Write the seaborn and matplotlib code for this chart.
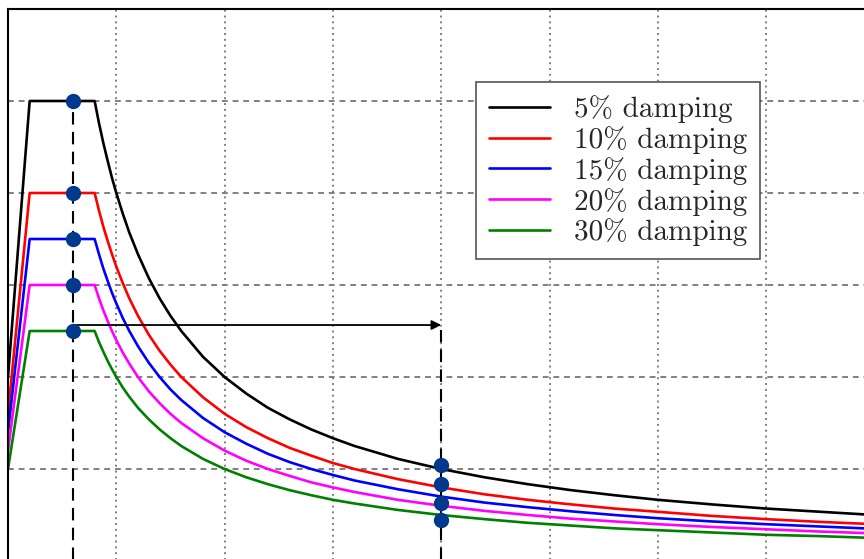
import numpy as np
import pandas as pd
import matplotlib
matplotlib.use("Agg")
import matplotlib.pyplot as plt
import seaborn as sns

# Periods (s) and spectral values
periods = [0.0, 0.1, 0.4, 0.42, 0.44, 0.46, 0.48, 0.5, 0.53, 0.56, 0.6, 0.65, 0.7,
           0.75, 0.8, 0.9, 1.0, 1.1, 1.2, 1.3, 1.4, 1.5, 1.6, 1.8, 2.0, 2.2, 2.4,
           2.6, 2.8, 3.0, 3.25, 3.5, 3.75, 4.0]
sa_5 = [0.400, 1.000, 1.000, 0.952, 0.909, 0.870, 0.833, 0.800, 0.755, 0.714, 0.667,
        0.615, 0.571, 0.533, 0.500, 0.444, 0.400, 0.364, 0.333, 0.308, 0.286, 0.267,
        0.250, 0.222, 0.200, 0.182, 0.167, 0.154, 0.143, 0.133, 0.123, 0.114, 0.107, 0.100]
sa_10 = [0.320, 0.800, 0.800, 0.762, 0.727, 0.696, 0.667, 0.640, 0.604, 0.571, 0.533,
         0.492, 0.457, 0.427, 0.400, 0.356, 0.320, 0.291, 0.267, 0.246, 0.229, 0.213,
         0.200, 0.178, 0.160, 0.145, 0.133, 0.123, 0.114, 0.107, 0.098, 0.091, 0.085, 0.080]
sa_15 = [0.280, 0.700, 0.700, 0.667, 0.636, 0.609, 0.583, 0.560, 0.528, 0.500, 0.467,
         0.431, 0.400, 0.373, 0.350, 0.311, 0.280, 0.255, 0.233, 0.215, 0.200, 0.187,
         0.175, 0.156, 0.140, 0.127, 0.117, 0.108, 0.100, 0.093, 0.086, 0.080, 0.075, 0.070]
sa_20 = [0.240, 0.600, 0.600, 0.571, 0.545, 0.522, 0.500, 0.480, 0.453, 0.429, 0.400,
         0.369, 0.343, 0.320, 0.300, 0.267, 0.240, 0.218, 0.200, 0.185, 0.171, 0.160,
         0.150, 0.133, 0.120, 0.109, 0.100, 0.092, 0.086, 0.080, 0.074, 0.069, 0.064, 0.060]
sa_30 = [0.200, 0.500, 0.500, 0.476, 0.455, 0.435, 0.417, 0.400, 0.377, 0.357, 0.333,
         0.308, 0.286, 0.267, 0.250, 0.222, 0.200, 0.182, 0.167, 0.154, 0.143, 0.133,
         0.125, 0.111, 0.100, 0.091, 0.083, 0.077, 0.071, 0.067, 0.062, 0.057, 0.054, 0.050]

labels = ["5% damping", "10% damping", "15% damping", "20% damping", "30% damping"]
colors = ["black", "red", "blue", "magenta", "green"]

# Marked points
t_short = 0.3
dots_short = [1.0, 0.8, 0.7, 0.6, 0.5]
t_long = 2.0
dots_long = [0.209, 0.167, 0.126, 0.089]
arrow_level = 0.513

# Long table for seaborn
series = [sa_5, sa_10, sa_15, sa_20, sa_30]
df = pd.concat(
    [pd.DataFrame({"T": periods, "Sa": s, "damping": lab}) for s, lab in zip(series, labels)],
    ignore_index=True,
)

sns.set_theme(style="whitegrid")
plt.rcParams["axes.formatter.use_mathtext"] = True

fig = plt.figure(figsize=(8.64, 5.59), dpi=100)
ax = fig.add_axes([8 / 864, -2 / 559, 866.4 / 864, 552 / 559])

sns.lineplot(data=df, x="T", y="Sa", hue="damping", palette=colors,
             estimator=None, linewidth=1.9, ax=ax)

# Vertical dashed guides and arrow
ax.plot([t_short, t_short], [0, dots_short[0]], color="black", lw=1.5,
        linestyle=(0, (6, 3.5)), zorder=3)
ax.plot([t_long, t_long], [0, arrow_level - 0.01], color="black", lw=1.5,
        linestyle=(0, (6, 3.5)), zorder=3)
ax.annotate("", xy=(t_long, arrow_level), xytext=(t_short, arrow_level),
            arrowprops=dict(arrowstyle="-|>", color="black", lw=1.3,
                            mutation_scale=14, shrinkA=0, shrinkB=0), zorder=4)

ax.plot([t_short] * len(dots_short), dots_short, "o", color="#003a8c",
        markersize=10, zorder=5)
ax.plot([t_long] * len(dots_long), dots_long, "o", color="#003a8c",
        markersize=10, zorder=5)

ax.set_xlim(0, 4.0)
ax.set_ylim(0, 1.2)
ax.set_xticks(np.arange(0, 4.01, 0.5))
ax.set_yticks(np.arange(0, 1.21, 0.2))
ax.tick_params(length=0, labelbottom=False, labelleft=False)
ax.set_xlabel("")
ax.set_ylabel("")

ax.xaxis.grid(True, color="#808080", linestyle=(0, (1, 2)), linewidth=1.4)
ax.yaxis.grid(True, color="#808080", linestyle=(0, (3, 2.5)), linewidth=1.4)
for side in ["left", "top"]:
    ax.spines[side].set_color("black")
    ax.spines[side].set_linewidth(1.5)

handles, labs = ax.get_legend_handles_labels()
leg = ax.legend(handles, labs, loc="upper left",
                bbox_to_anchor=(476 / 864, 1 - 82 / 559),
                bbox_transform=fig.transFigure, borderaxespad=0,
                prop={"family": "cmr10", "size": 21}, handlelength=2.1,
                labelspacing=0.1, handletextpad=0.8, borderpad=0.45,
                fancybox=False, framealpha=1, edgecolor="#555555")
leg.get_frame().set_linewidth(1.2)

fig.savefig("out.png", dpi=100)
